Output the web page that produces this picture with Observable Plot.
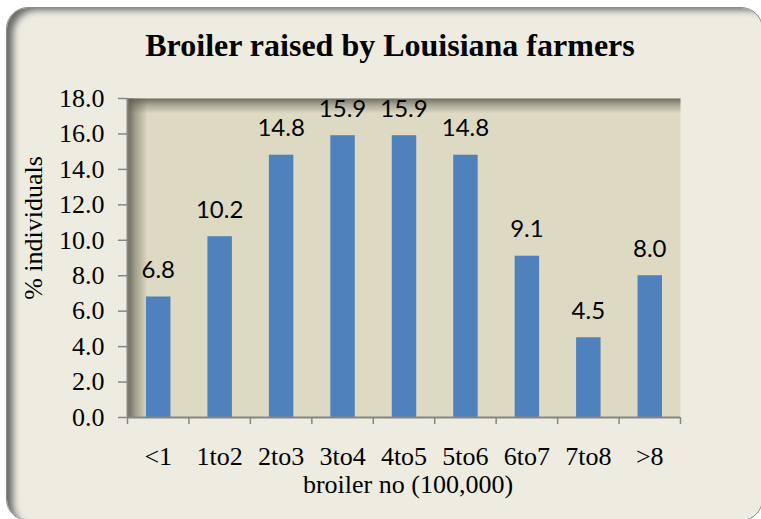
<!DOCTYPE html>
<html><head><meta charset="utf-8">
<script src="https://cdn.jsdelivr.net/npm/d3@7"></script>
<script src="https://cdn.jsdelivr.net/npm/@observablehq/plot@0.6"></script>
<style>
body{margin:0;background:#fff;}
#wrap{position:relative;width:761px;height:519px;overflow:hidden;background:#fff;}
#box{position:absolute;left:6px;top:7px;width:757px;height:514px;border-radius:22px;background:#eeece1;box-shadow:inset 9px 5px 7px -3px #6a6a6a;border:1px solid #8c8c8c;box-sizing:border-box;}
#chart{position:absolute;left:0;top:0;}
</style></head><body>
<div id="wrap"><div id="box"></div><div id="chart"></div></div>
<script>
const categories = ["<1","1to2","2to3","3to4","4to5","5to6","6to7","7to8",">8"];
const values = [6.8, 10.2, 14.8, 15.9, 15.9, 14.8, 9.1, 4.5, 8.0];
const yTicks = [0, 2, 4, 6, 8, 10, 12, 14, 16, 18];
const title = "Broiler raised by Louisiana farmers";
const xTitle = "broiler no (100,000)";
const yTitle = "% individuals";

const data = categories.map((c, i) => ({cat: c, i, value: values[i]}));
const serif = "'Liberation Serif','Times New Roman',serif";
const sans = "Lato,'Open Sans',sans-serif";
const gray = "#868686";

const plot = Plot.plot({
  width: 761, height: 519,
  marginLeft: 127, marginRight: 81, marginTop: 98, marginBottom: 102,
  style: {background: "transparent", fontFamily: serif, fontSize: "26px", color: "#000"},
  x: {type: "linear", domain: [0, categories.length], axis: null},
  y: {domain: [0, 18], axis: null},
  marks: [
    Plot.frame({fill: "#ddd9c3"}),
    Plot.frame({fill: "url(#shadeL)"}),
    Plot.frame({fill: "url(#shadeT)"}),
    Plot.rectY(data, {x1: "i", x2: d => d.i + 1, y: "value", insetLeft: 19, insetRight: 18, fill: "#4f81bd"}),
    Plot.text(data, {x: d => d.i + 0.5, y: "value", text: d => d.value.toFixed(1), lineAnchor: "bottom", dy: -19, fontFamily: sans, fontSize: 24, fill: "#000"}),
    Plot.axisY({ticks: yTicks, tickFormat: d => d.toFixed(1), tickSize: 9, tickPadding: 14, stroke: gray, strokeWidth: 1.5, label: null, fontSize: 26, fill: "#000"}),
    Plot.axisX({ticks: d3.range(categories.length + 1), tickFormat: () => "", tickSize: 7, stroke: gray, strokeWidth: 1.5, label: null}),
    Plot.axisX({ticks: categories.map((c, i) => i + 0.5), tickFormat: t => categories[Math.floor(t)], tickSize: 0, tickPadding: 29, label: null, fontSize: 26, fill: "#000"}),
    Plot.ruleX([0], {stroke: gray, strokeWidth: 2}),
    Plot.ruleY([0], {stroke: gray, strokeWidth: 2}),
    Plot.text([title], {frameAnchor: "top", text: d => d, textAnchor: "middle", lineAnchor: "bottom", dy: -43, dx: -14, fontSize: 32, fontWeight: "bold", fontFamily: serif, fill: "#000"}),
    Plot.text([xTitle], {frameAnchor: "bottom", text: d => d, textAnchor: "middle", lineAnchor: "bottom", dy: 75, dx: 4, fontSize: 26, fontFamily: serif, fill: "#000"}),
    Plot.text([yTitle], {frameAnchor: "left", text: d => d, textAnchor: "middle", rotate: -90, lineAnchor: "middle", dx: -94, dy: -30, fontSize: 26, fontFamily: serif, fill: "#000"})
  ]
});

const defs = d3.select(plot).insert("defs", ":first-child");
const gl = defs.append("linearGradient").attr("id", "shadeL").attr("x1", 0).attr("x2", 1).attr("y1", 0).attr("y2", 0);
gl.append("stop").attr("offset", 0).attr("stop-color", "#5c5a4e").attr("stop-opacity", 0.9);
gl.append("stop").attr("offset", 0.015).attr("stop-color", "#5c5a4e").attr("stop-opacity", 0.45);
gl.append("stop").attr("offset", 0.036).attr("stop-color", "#5c5a4e").attr("stop-opacity", 0);
const gt = defs.append("linearGradient").attr("id", "shadeT").attr("x1", 0).attr("x2", 0).attr("y1", 0).attr("y2", 1);
gt.append("stop").attr("offset", 0).attr("stop-color", "#5c5a4e").attr("stop-opacity", 0.85);
gt.append("stop").attr("offset", 0.02).attr("stop-color", "#5c5a4e").attr("stop-opacity", 0.4);
gt.append("stop").attr("offset", 0.047).attr("stop-color", "#5c5a4e").attr("stop-opacity", 0);

document.getElementById("chart").appendChild(plot);
</script>
</body></html>
